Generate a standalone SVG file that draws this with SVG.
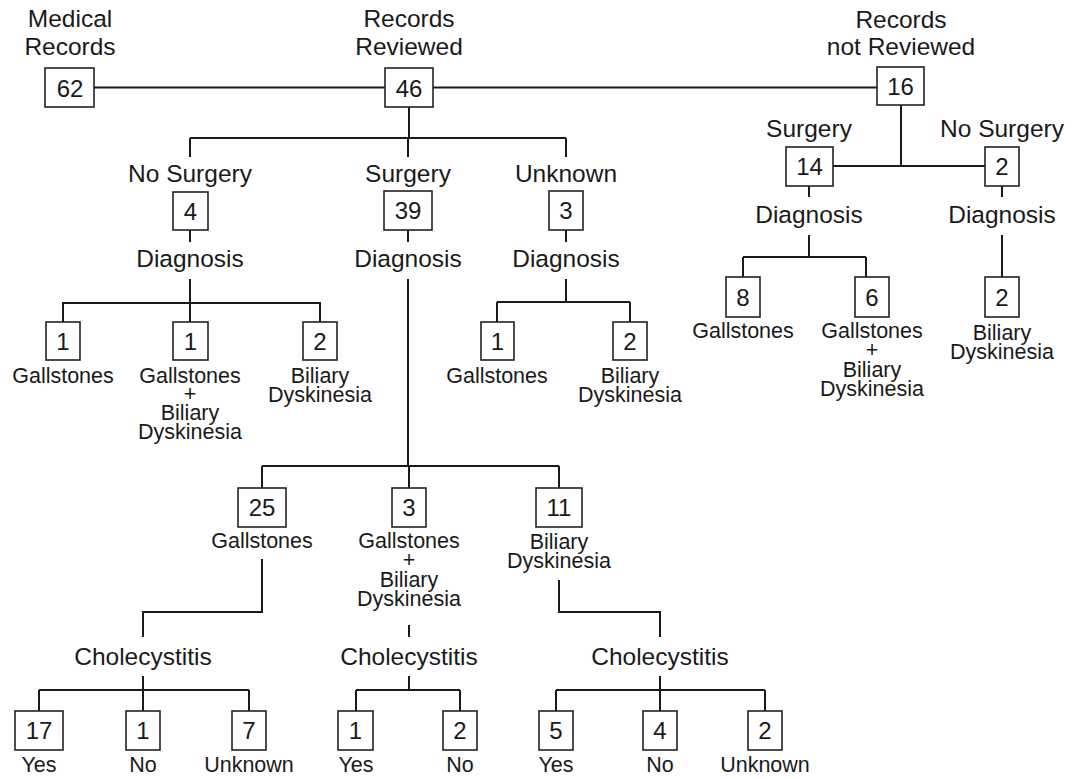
<svg xmlns="http://www.w3.org/2000/svg" width="1077" height="779" viewBox="0 0 1077 779">
<style>
.bg{fill:#fff}
.box{fill:#fff;stroke:#222;stroke-width:1.6}
.ln{fill:none;stroke:#1a1a1a;stroke-width:2}
text{font-family:"Liberation Sans",Arial,sans-serif;fill:#1a1a1a;text-anchor:middle}
.num{font-size:24px}
.big{font-size:24.5px}
.sm{font-size:21.5px}
</style>
<rect class="bg" x="0" y="0" width="1077" height="779"/>
<g id="connectors">
<path class="ln" d="M94 87.5H385M433 87.5H877"/>
<path class="ln" d="M409 107V138M190 138H566M190 138V157M408 138V157M566 138V157"/>
<path class="ln" d="M190 230V242M190 279V303M62 303H321M63 303V322M190 303V322M320 303V322"/>
<path class="ln" d="M408 230V242M408 279V466"/>
<path class="ln" d="M566 230V242M566 279V302M497 302H630M497 302V322M630 302V322"/>
<path class="ln" d="M901 105V166M833 166H985"/>
<path class="ln" d="M809 186V197M809 235V257M743 257H866M743 257V277M866 257V277"/>
<path class="ln" d="M1002 186V197M1002 235V277"/>
<path class="ln" d="M262 466H559M262 466V488M409 466V488M559 466V488"/>
<path class="ln" d="M262 559V612H143V637M143 676V690M39 690H249M39 690V711M143 690V711M249 690V711"/>
<path class="ln" d="M409 625V637M409 676V690M356 690H460M356 690V711M460 690V711"/>
<path class="ln" d="M559 580V612H660V637M660 676V690M556 690H765M556 690V711M660 690V711M765 690V711"/>
</g>
<g id="n62"><text class="big" x="70" y="27">Medical</text><text class="big" x="70" y="55">Records</text><rect class="box" x="45" y="68" width="49" height="39"/><text class="num" x="70" y="96.5">62</text></g>
<g id="n46"><text class="big" x="409" y="27">Records</text><text class="big" x="409" y="55">Reviewed</text><rect class="box" x="385" y="68" width="48" height="39"/><text class="num" x="409" y="96.5">46</text></g>
<g id="n16"><text class="big" x="901" y="28">Records</text><text class="big" x="901" y="55">not Reviewed</text><rect class="box" x="877" y="67" width="47" height="38"/><text class="num" x="900.5" y="95">16</text></g>
<g id="rv-nosurgery"><text class="big" x="190" y="182">No Surgery</text><rect class="box" x="173" y="192" width="35" height="38"/><text class="num" x="190.5" y="219.5">4</text><text class="big" x="190" y="267">Diagnosis</text></g>
<g id="rv-surgery"><text class="big" x="408" y="182">Surgery</text><rect class="box" x="384" y="191" width="48" height="39"/><text class="num" x="408" y="219">39</text><text class="big" x="408" y="267">Diagnosis</text></g>
<g id="rv-unknown"><text class="big" x="566" y="182">Unknown</text><rect class="box" x="549" y="191" width="34" height="39"/><text class="num" x="566" y="219">3</text><text class="big" x="566" y="267">Diagnosis</text></g>
<g id="ns-gall"><rect class="box" x="46" y="322" width="34" height="38"/><text class="num" x="63" y="349.5">1</text><text class="sm" x="63" y="383">Gallstones</text></g>
<g id="ns-both"><rect class="box" x="173" y="322" width="35" height="38"/><text class="num" x="190.5" y="349.5">1</text><text class="sm" x="190" y="383">Gallstones</text><text class="sm" x="190" y="401">+</text><text class="sm" x="190" y="420">Biliary</text><text class="sm" x="190" y="439">Dyskinesia</text></g>
<g id="ns-bd"><rect class="box" x="303" y="322" width="34" height="38"/><text class="num" x="320" y="349.5">2</text><text class="sm" x="320" y="383">Biliary</text><text class="sm" x="320" y="402">Dyskinesia</text></g>
<g id="un-gall"><rect class="box" x="481" y="322" width="33" height="38"/><text class="num" x="497.5" y="349.5">1</text><text class="sm" x="497" y="383">Gallstones</text></g>
<g id="un-bd"><rect class="box" x="613" y="322" width="34" height="38"/><text class="num" x="630" y="349.5">2</text><text class="sm" x="630" y="383">Biliary</text><text class="sm" x="630" y="402">Dyskinesia</text></g>
<g id="nr-surgery"><text class="big" x="809" y="137">Surgery</text><rect class="box" x="786" y="147" width="47" height="39"/><text class="num" x="809.5" y="175">14</text><text class="big" x="809" y="223">Diagnosis</text></g>
<g id="nr-nosurgery"><text class="big" x="1002" y="137">No Surgery</text><rect class="box" x="985" y="147" width="34" height="39"/><text class="num" x="1002" y="175">2</text><text class="big" x="1002" y="223">Diagnosis</text></g>
<g id="nr-gall"><rect class="box" x="726" y="277" width="34" height="40"/><text class="num" x="743" y="305.5">8</text><text class="sm" x="743" y="338">Gallstones</text></g>
<g id="nr-both"><rect class="box" x="855" y="277" width="34" height="40"/><text class="num" x="872" y="305.5">6</text><text class="sm" x="872" y="338">Gallstones</text><text class="sm" x="872" y="357">+</text><text class="sm" x="872" y="377">Biliary</text><text class="sm" x="872" y="396">Dyskinesia</text></g>
<g id="nr-bd"><rect class="box" x="985" y="277" width="34" height="40"/><text class="num" x="1002" y="305.5">2</text><text class="sm" x="1002" y="340">Biliary</text><text class="sm" x="1002" y="359">Dyskinesia</text></g>
<g id="s-gall"><rect class="box" x="238" y="488" width="48" height="39"/><text class="num" x="262" y="516">25</text><text class="sm" x="262" y="548">Gallstones</text></g>
<g id="s-both"><rect class="box" x="392" y="488" width="34" height="39"/><text class="num" x="409" y="516">3</text><text class="sm" x="409" y="548">Gallstones</text><text class="sm" x="409" y="567">+</text><text class="sm" x="409" y="587">Biliary</text><text class="sm" x="409" y="606">Dyskinesia</text></g>
<g id="s-bd"><rect class="box" x="536" y="488" width="46" height="39"/><text class="num" x="559" y="516">11</text><text class="sm" x="559" y="549">Biliary</text><text class="sm" x="559" y="568">Dyskinesia</text></g>
<g id="chole-1"><text class="big" x="143" y="665">Cholecystitis</text></g>
<g id="chole-2"><text class="big" x="409" y="665">Cholecystitis</text></g>
<g id="chole-3"><text class="big" x="660" y="665">Cholecystitis</text></g>
<g id="g-yes"><rect class="box" x="15" y="711" width="48" height="39"/><text class="num" x="39" y="739">17</text><text class="sm" x="39" y="772">Yes</text></g>
<g id="g-no"><rect class="box" x="126" y="711" width="34" height="39"/><text class="num" x="143" y="739">1</text><text class="sm" x="143" y="772">No</text></g>
<g id="g-unk"><rect class="box" x="232" y="711" width="34" height="39"/><text class="num" x="249" y="739">7</text><text class="sm" x="249" y="772">Unknown</text></g>
<g id="b-yes"><rect class="box" x="338" y="711" width="35" height="39"/><text class="num" x="355.5" y="739">1</text><text class="sm" x="356" y="772">Yes</text></g>
<g id="b-no"><rect class="box" x="443" y="711" width="34" height="39"/><text class="num" x="460" y="739">2</text><text class="sm" x="460" y="772">No</text></g>
<g id="d-yes"><rect class="box" x="539" y="711" width="34" height="39"/><text class="num" x="556" y="739">5</text><text class="sm" x="556" y="772">Yes</text></g>
<g id="d-no"><rect class="box" x="643" y="711" width="34" height="39"/><text class="num" x="660" y="739">4</text><text class="sm" x="660" y="772">No</text></g>
<g id="d-unk"><rect class="box" x="748" y="711" width="34" height="39"/><text class="num" x="765" y="739">2</text><text class="sm" x="765" y="772">Unknown</text></g>
</svg>
